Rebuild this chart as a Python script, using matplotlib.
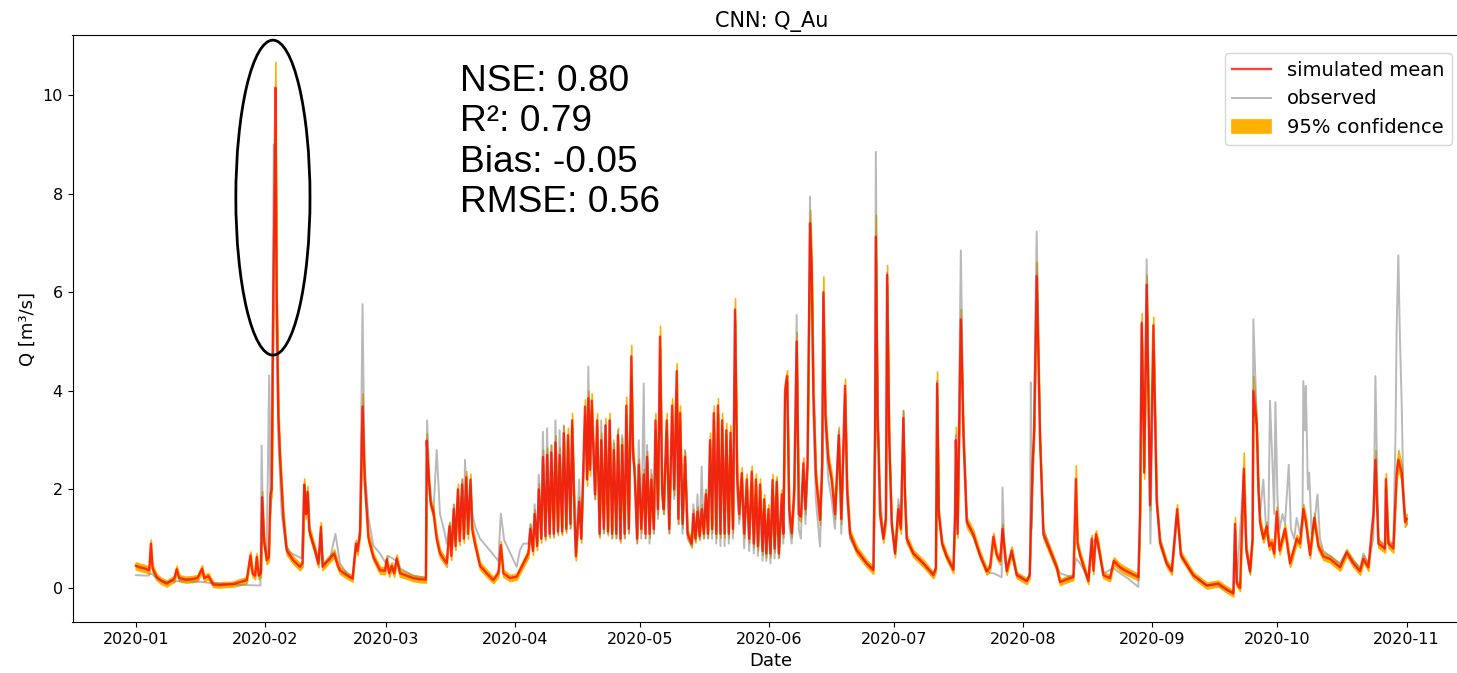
import numpy as np
import matplotlib
matplotlib.use("Agg")
import matplotlib.pyplot as plt
import matplotlib.dates as mdates
from matplotlib.patches import Ellipse

START = np.datetime64("2020-01-01T00:00")

# simulated mean: (days since 2020-01-01, Q [m3/s], half width of 95% band)
sim_points = [
    (0.0, 0.45, 0.07), (1.0, 0.42, 0.07), (2.0, 0.40, 0.07), (3.2, 0.36, 0.07), (3.6, 0.90, 0.08),
    (4.0, 0.40, 0.07), (5.0, 0.22, 0.06), (6.0, 0.15, 0.06), (7.4, 0.09, 0.06), (8.5, 0.15, 0.06),
    (9.2, 0.18, 0.06), (9.8, 0.38, 0.07), (10.4, 0.20, 0.06), (12.0, 0.17, 0.06), (13.5, 0.18, 0.06),
    (14.8, 0.20, 0.06), (15.9, 0.39, 0.07), (16.4, 0.20, 0.06), (17.4, 0.24, 0.06), (18.6, 0.07, 0.05),
    (20.0, 0.06, 0.05), (21.5, 0.07, 0.05), (23.4, 0.08, 0.05), (25.0, 0.12, 0.06), (26.6, 0.16, 0.06),
    (27.5, 0.66, 0.08), (28.0, 0.30, 0.07), (28.6, 0.25, 0.07), (29.0, 0.63, 0.08), (29.5, 0.25, 0.07),
    (30.0, 0.30, 0.07), (30.3, 1.84, 0.12), (30.8, 0.95, 0.10), (31.4, 0.56, 0.08), (31.9, 0.62, 0.08),
    (32.3, 1.90, 0.12), (32.6, 2.00, 0.15), (33.0, 6.00, 0.20), (33.2, 7.30, 0.35), (33.5, 10.15, 0.52),
    (33.8, 5.90, 0.25), (34.2, 3.50, 0.15), (34.6, 2.66, 0.12), (35.4, 1.44, 0.10), (36.2, 0.76, 0.08),
    (37.8, 0.56, 0.07), (39.4, 0.43, 0.07), (40.0, 0.50, 0.07), (40.4, 2.10, 0.12), (40.8, 1.50, 0.10),
    (41.2, 1.95, 0.12), (41.6, 1.17, 0.10), (43.0, 0.76, 0.08), (43.8, 0.49, 0.07), (44.4, 1.24, 0.10),
    (44.8, 0.43, 0.07), (46.0, 0.55, 0.07), (46.6, 0.60, 0.07), (47.6, 0.70, 0.08), (48.5, 0.45, 0.07),
    (49.0, 0.36, 0.07), (50.6, 0.26, 0.06), (52.0, 0.19, 0.06), (52.8, 0.90, 0.08), (53.2, 0.75, 0.08),
    (53.8, 1.15, 0.10), (54.4, 3.68, 0.27), (54.9, 2.20, 0.12), (55.8, 1.03, 0.10), (57.0, 0.63, 0.07),
    (58.6, 0.36, 0.07), (59.8, 0.35, 0.07), (60.2, 0.58, 0.08), (60.8, 0.30, 0.07), (61.4, 0.45, 0.07),
    (62.0, 0.30, 0.07), (62.6, 0.60, 0.08), (63.4, 0.30, 0.07), (65.0, 0.25, 0.06), (66.6, 0.20, 0.06),
    (68.0, 0.18, 0.06), (69.6, 0.17, 0.06), (69.8, 2.99, 0.15), (70.3, 2.20, 0.12), (70.8, 1.70, 0.10),
    (71.4, 1.55, 0.10), (72.2, 1.00, 0.10), (73.0, 0.70, 0.08), (74.6, 0.50, 0.07), (75.3, 1.25, 0.10),
    (75.7, 0.65, 0.08), (76.3, 1.60, 0.10), (76.7, 0.85, 0.08), (77.3, 2.00, 0.12), (77.7, 0.95, 0.08),
    (78.3, 2.10, 0.12), (78.7, 1.00, 0.08), (79.3, 2.25, 0.12), (79.7, 1.10, 0.10), (80.3, 2.20, 0.12),
    (80.7, 1.20, 0.10), (81.4, 0.90, 0.08), (82.6, 0.45, 0.07), (84.2, 0.30, 0.07), (85.8, 0.16, 0.06),
    (87.0, 0.30, 0.07), (87.6, 0.87, 0.08), (88.2, 0.30, 0.07), (89.8, 0.20, 0.06), (91.4, 0.23, 0.06),
    (93.0, 0.50, 0.07), (94.2, 0.70, 0.08),
    (94.7, 1.20, 0.10), (95.3, 0.75, 0.08), (95.7, 1.50, 0.10), (96.3, 0.85, 0.08), (96.7, 2.00, 0.12),
    (97.3, 1.00, 0.08), (97.7, 2.66, 0.15), (98.3, 1.05, 0.08), (98.7, 2.70, 0.15), (99.3, 1.10, 0.08),
    (99.7, 2.75, 0.15), (100.3, 1.10, 0.08), (100.7, 2.95, 0.15), (101.3, 1.15, 0.08), (101.7, 2.70, 0.15),
    (102.3, 1.15, 0.08), (102.7, 3.14, 0.15), (103.3, 1.20, 0.08), (103.7, 3.10, 0.15), (104.3, 1.30, 0.08),
    (104.7, 3.40, 0.15), (105.3, 1.40, 0.10), (105.6, 0.64, 0.08), (106.4, 1.75, 0.10), (106.9, 1.00, 0.08),
    (107.8, 3.68, 0.15), (108.3, 2.20, 0.12), (108.6, 3.85, 0.15), (109.0, 2.40, 0.12), (109.4, 3.80, 0.15),
    (110.2, 1.90, 0.10), (110.7, 3.40, 0.15), (111.3, 1.10, 0.08), (111.7, 3.00, 0.15), (112.3, 1.20, 0.08),
    (112.7, 3.30, 0.15), (113.3, 1.15, 0.08), (113.7, 3.40, 0.15), (114.3, 1.10, 0.08), (114.7, 2.80, 0.15),
    (115.3, 1.10, 0.08), (115.7, 3.10, 0.15), (116.3, 1.00, 0.08), (116.7, 2.90, 0.15), (117.3, 1.10, 0.08),
    (117.7, 3.70, 0.18), (118.3, 1.20, 0.08), (118.9, 4.70, 0.23), (119.3, 2.80, 0.12), (119.7, 2.30, 0.12),
    (120.3, 1.00, 0.08), (120.7, 2.50, 0.12), (121.3, 1.20, 0.08), (121.9, 2.30, 0.12), (122.3, 1.10, 0.08),
    (122.7, 2.66, 0.12), (123.3, 1.10, 0.08), (123.7, 2.20, 0.12), (124.3, 1.20, 0.08), (124.7, 3.40, 0.15),
    (125.3, 1.60, 0.10), (125.8, 5.10, 0.22), (126.3, 2.00, 0.12), (126.7, 1.60, 0.10), (127.4, 3.40, 0.15),
    (128.0, 1.20, 0.08), (128.7, 3.70, 0.15), (129.2, 2.00, 0.12), (129.8, 4.40, 0.16), (130.2, 1.40, 0.10),
    (130.6, 3.55, 0.15), (131.2, 1.30, 0.08), (131.8, 2.66, 0.12), (132.4, 1.11, 0.08), (133.4, 0.90, 0.08),
    (133.8, 1.50, 0.10), (134.3, 1.00, 0.08), (134.8, 1.55, 0.10), (135.3, 1.05, 0.08), (135.8, 1.60, 0.10),
    (136.3, 1.10, 0.08), (136.8, 1.90, 0.10), (137.3, 1.10, 0.08), (137.8, 3.00, 0.15), (138.3, 1.20, 0.08),
    (138.7, 3.55, 0.15), (139.3, 1.10, 0.08), (139.7, 3.70, 0.15), (140.3, 1.10, 0.08), (140.7, 3.40, 0.15),
    (141.3, 1.10, 0.08), (141.7, 3.20, 0.15), (142.3, 1.10, 0.08), (142.7, 3.15, 0.15), (143.3, 1.20, 0.08),
    (143.8, 5.65, 0.23), (144.3, 2.30, 0.12), (144.8, 1.50, 0.10), (145.4, 2.33, 0.12), (146.0, 1.10, 0.08),
    (146.6, 2.20, 0.12), (147.2, 1.00, 0.08), (147.8, 2.36, 0.12), (148.3, 0.90, 0.08), (148.8, 2.20, 0.12),
    (149.3, 0.85, 0.08), (149.8, 2.10, 0.12), (150.4, 0.75, 0.08), (150.8, 1.80, 0.10), (151.3, 0.70, 0.08),
    (151.8, 1.60, 0.10), (152.3, 0.70, 0.08), (152.8, 2.19, 0.12), (153.3, 0.80, 0.08), (153.8, 2.15, 0.12),
    (154.3, 0.70, 0.08), (155.0, 1.90, 0.10), (155.4, 1.10, 0.08), (155.8, 4.00, 0.15), (156.3, 4.30, 0.12),
    (156.8, 1.60, 0.10), (157.4, 1.11, 0.08), (158.0, 2.00, 0.12), (158.6, 5.00, 0.20), (159.1, 1.50, 0.10),
    (159.6, 1.45, 0.10), (160.2, 2.53, 0.12), (160.7, 1.60, 0.10), (161.2, 2.60, 0.12), (161.5, 5.00, 0.20),
    (161.8, 7.40, 0.27), (162.2, 6.50, 0.25), (162.6, 4.00, 0.20), (163.2, 2.30, 0.12), (164.2, 1.38, 0.10),
    (164.7, 2.50, 0.12), (165.0, 6.00, 0.32), (165.5, 3.50, 0.15), (166.2, 2.60, 0.12), (167.0, 2.20, 0.12),
    (167.8, 1.50, 0.10), (168.7, 3.10, 0.17), (169.3, 1.40, 0.10), (170.2, 4.10, 0.15), (170.7, 2.00, 0.12),
    (171.4, 1.10, 0.08), (173.0, 0.77, 0.08), (175.4, 0.50, 0.07), (177.0, 0.36, 0.07), (177.4, 3.00, 0.15),
    (177.6, 7.13, 0.44), (178.0, 3.50, 0.15), (178.6, 1.50, 0.10), (179.4, 1.00, 0.08), (180.0, 1.40, 0.10),
    (180.3, 6.35, 0.20), (180.8, 3.00, 0.15), (181.4, 1.30, 0.10), (182.2, 0.70, 0.08), (183.0, 1.60, 0.10),
    (183.6, 1.20, 0.10), (184.2, 3.45, 0.15), (184.6, 1.80, 0.10), (185.0, 1.00, 0.08), (186.6, 0.70, 0.07),
    (189.0, 0.50, 0.07), (191.4, 0.26, 0.06), (192.0, 0.40, 0.07), (192.3, 4.15, 0.24), (192.7, 1.50, 0.10),
    (193.5, 0.90, 0.08), (194.6, 0.64, 0.07), (196.2, 0.37, 0.07), (196.6, 1.50, 0.10), (196.8, 3.00, 0.27),
    (197.2, 1.10, 0.08), (198.0, 5.45, 0.20), (198.6, 3.09, 0.15), (199.4, 1.34, 0.10), (201.0, 1.09, 0.08),
    (202.6, 0.67, 0.07), (204.2, 0.34, 0.07), (205.0, 0.42, 0.07), (205.8, 1.04, 0.08), (206.6, 0.67, 0.07),
    (207.4, 0.55, 0.07), (208.0, 1.20, 0.10), (209.0, 0.34, 0.07), (210.2, 0.76, 0.08), (211.4, 0.26, 0.06),
    (213.8, 0.14, 0.06), (214.5, 0.25, 0.06), (215.2, 2.50, 0.15), (215.6, 3.20, 0.15), (216.2, 6.33, 0.29),
    (217.0, 3.00, 0.15), (217.8, 1.09, 0.08), (219.4, 0.76, 0.08), (221.0, 0.42, 0.07), (221.8, 0.12, 0.06),
    (223.5, 0.18, 0.06), (225.0, 0.22, 0.06), (225.6, 2.21, 0.28), (226.0, 0.90, 0.08), (226.6, 0.67, 0.07),
    (228.6, 0.14, 0.06), (229.4, 1.00, 0.08), (229.8, 0.35, 0.07), (230.4, 1.09, 0.08), (230.9, 0.92, 0.08),
    (232.2, 0.26, 0.06), (233.8, 0.20, 0.06), (234.7, 0.55, 0.07), (236.2, 0.42, 0.07), (237.8, 0.34, 0.07),
    (240.6, 0.22, 0.06), (241.0, 1.50, 0.10), (241.4, 5.37, 0.21), (242.0, 2.34, 0.12), (242.6, 6.15, 0.20),
    (243.4, 1.68, 0.10), (244.2, 5.33, 0.17), (245.0, 1.75, 0.10), (245.8, 0.92, 0.08), (247.4, 0.50, 0.07),
    (248.6, 0.34, 0.07), (249.9, 1.60, 0.10), (250.8, 0.67, 0.07), (253.8, 0.26, 0.06), (257.0, 0.05, 0.06),
    (259.8, 0.09, 0.06), (261.8, -0.03, 0.06), (263.4, -0.11, 0.06), (263.8, 1.30, 0.14), (264.2, 0.10, 0.06),
    (265.0, 0.00, 0.06), (265.9, 2.42, 0.33), (266.5, 0.80, 0.08), (267.4, 0.34, 0.07), (268.0, 1.00, 0.08),
    (268.2, 4.00, 0.30), (269.0, 3.30, 0.15), (269.4, 2.00, 0.12), (269.8, 1.34, 0.10), (270.6, 1.00, 0.08),
    (271.4, 1.25, 0.10), (272.0, 0.85, 0.08), (272.6, 0.92, 0.08), (273.2, 0.70, 0.08), (273.8, 1.55, 0.10),
    (274.5, 0.76, 0.08), (275.2, 1.00, 0.08), (275.8, 1.20, 0.10), (277.0, 0.50, 0.07), (278.0, 0.80, 0.08),
    (278.6, 1.00, 0.08), (279.4, 0.90, 0.08), (280.2, 1.60, 0.10), (280.8, 1.35, 0.10), (281.8, 0.67, 0.07),
    (282.8, 1.42, 0.10), (283.8, 0.85, 0.08), (285.0, 0.64, 0.07), (286.6, 0.59, 0.07), (289.0, 0.42, 0.07),
    (290.6, 0.72, 0.07), (292.2, 0.50, 0.07), (293.8, 0.34, 0.07), (294.6, 0.59, 0.07), (295.8, 0.42, 0.07),
    (297.0, 1.50, 0.10), (297.5, 2.60, 0.20), (298.2, 0.90, 0.08), (299.8, 0.80, 0.08), (300.0, 2.21, 0.12),
    (300.6, 0.90, 0.08), (301.8, 0.80, 0.08), (302.6, 2.34, 0.15), (303.0, 2.60, 0.20), (303.8, 2.34, 0.15),
    (304.6, 1.34, 0.10), (305.0, 1.40, 0.10),
]

# observed discharge: (days since 2020-01-01, Q [m3/s])
obs_points = [
    (0.0, 0.26), (3.0, 0.25), (3.6, 0.30), (5.0, 0.20), (7.4, 0.12), (10.0, 0.14), (15.0, 0.13),
    (18.0, 0.10), (22.0, 0.08), (26.0, 0.06), (29.9, 0.05), (30.2, 2.89), (30.6, 0.90), (31.4, 0.70),
    (32.0, 4.31), (32.3, 1.50), (32.8, 5.00), (33.1, 9.00), (33.5, 8.00), (33.8, 5.00), (34.2, 3.00),
    (35.0, 1.50), (36.0, 0.85), (37.0, 0.72), (39.8, 0.60), (40.4, 2.08), (41.0, 1.50), (41.4, 1.90),
    (41.8, 1.10), (43.0, 0.80), (44.0, 0.55), (44.4, 1.10), (45.0, 0.50), (46.5, 0.55), (47.9, 1.10),
    (49.0, 0.50), (50.6, 0.30), (52.0, 0.20), (52.8, 0.80), (53.8, 1.00), (54.4, 5.76), (54.9, 2.50),
    (55.8, 1.44), (57.0, 0.86), (58.6, 0.70), (60.0, 0.50), (60.6, 0.65), (62.6, 0.55), (63.4, 0.40),
    (66.6, 0.25), (69.6, 0.20), (69.9, 3.40), (70.6, 1.80), (71.4, 1.50), (72.2, 2.80), (73.0, 1.50),
    (74.0, 1.17), (74.6, 0.90), (75.3, 1.30), (75.7, 0.80), (76.3, 1.70), (76.7, 1.00), (77.3, 2.00),
    (77.7, 1.10), (78.3, 2.20), (78.7, 1.20), (79.0, 2.60), (79.7, 1.30), (80.3, 2.10), (80.8, 1.50),
    (81.4, 1.25), (82.6, 1.00), (85.0, 0.76), (87.0, 0.55), (87.6, 1.51), (88.4, 0.97), (91.4, 0.43),
    (92.2, 0.77), (93.0, 0.90), (94.2, 0.90),
    (94.7, 1.30), (95.3, 0.80), (95.7, 1.70), (96.3, 0.90), (96.7, 2.30), (97.3, 1.00), (97.7, 3.17),
    (98.3, 1.00), (98.7, 3.24), (99.3, 1.05), (99.7, 2.90), (100.3, 1.05), (100.7, 3.40), (101.3, 1.10),
    (101.7, 3.20), (102.3, 1.10), (102.7, 3.30), (103.3, 1.15), (103.7, 3.00), (104.3, 1.20), (104.7, 3.30),
    (105.3, 1.30), (105.6, 0.70), (106.4, 2.20), (106.9, 1.00), (107.8, 3.50), (108.3, 2.20), (108.6, 4.49),
    (109.0, 2.50), (109.4, 3.60), (110.2, 1.80), (110.7, 3.30), (111.3, 1.05), (111.7, 3.40), (112.3, 1.10),
    (112.7, 3.30), (113.3, 1.10), (113.7, 3.40), (114.3, 1.00), (114.7, 3.00), (115.3, 1.00), (115.7, 3.20),
    (116.3, 0.95), (116.7, 3.10), (117.3, 1.00), (117.7, 3.50), (118.3, 1.10), (118.9, 4.30), (119.3, 2.60),
    (119.7, 2.50), (120.3, 0.90), (120.7, 3.00), (121.3, 1.00), (121.9, 4.15), (122.3, 1.00), (122.7, 2.90),
    (123.3, 0.90), (123.7, 2.40), (124.3, 1.10), (124.7, 3.20), (125.3, 1.40), (125.8, 4.70), (126.3, 1.80),
    (126.7, 1.50), (127.4, 3.20), (128.0, 1.10), (128.7, 3.50), (129.2, 1.80), (129.8, 4.00), (130.2, 1.30),
    (130.6, 3.30), (131.2, 1.10), (131.8, 2.80), (132.4, 1.00), (133.4, 0.85), (133.8, 1.70), (134.3, 0.95),
    (134.8, 1.90), (135.3, 1.00), (135.8, 2.46), (136.3, 1.00), (136.8, 2.00), (137.3, 1.00), (137.8, 2.90),
    (138.3, 1.00), (138.7, 3.40), (139.3, 0.90), (139.7, 3.50), (140.3, 0.85), (140.7, 3.30), (141.3, 0.85),
    (141.7, 3.10), (142.3, 0.90), (142.7, 3.00), (143.3, 1.00), (143.8, 5.60), (144.3, 2.00), (144.8, 1.30),
    (145.4, 2.20), (146.0, 0.80), (146.6, 2.00), (147.2, 0.75), (147.8, 2.10), (148.3, 0.70), (148.8, 1.90),
    (149.3, 0.65), (149.8, 1.80), (150.4, 0.55), (150.8, 1.60), (151.3, 0.55), (151.8, 1.50), (152.3, 0.50),
    (152.8, 2.00), (153.3, 0.60), (153.8, 2.20), (154.3, 0.60), (155.0, 1.70), (155.4, 0.90), (155.8, 3.80),
    (156.3, 4.20), (156.8, 1.30), (157.4, 0.90), (158.0, 1.80), (158.6, 5.54), (159.1, 1.20), (159.6, 1.00),
    (160.2, 2.40), (160.7, 1.30), (161.2, 2.40), (161.5, 5.00), (161.8, 7.94), (162.2, 6.00), (162.6, 3.50),
    (163.2, 1.80), (164.2, 0.84), (164.7, 2.30), (165.0, 5.90), (165.5, 3.20), (166.2, 2.20), (167.0, 1.80),
    (167.8, 1.20), (168.7, 3.20), (169.3, 1.10), (170.2, 3.90), (170.7, 1.80), (171.4, 1.00), (173.0, 0.75),
    (175.4, 0.50), (177.0, 0.40), (177.4, 3.50), (177.6, 8.85), (178.0, 4.00), (178.6, 2.00), (179.4, 1.00),
    (180.0, 1.50), (180.3, 6.40), (180.8, 3.20), (181.4, 1.30), (182.2, 0.70), (183.0, 1.80), (183.6, 1.30),
    (184.2, 3.60), (184.6, 2.00), (185.0, 1.00), (186.6, 0.70), (189.0, 0.50), (191.4, 0.30), (192.0, 0.40),
    (192.3, 4.20), (192.7, 1.60), (193.5, 0.90), (194.6, 0.65), (196.2, 0.40), (196.6, 1.40), (196.8, 3.10),
    (197.2, 1.20), (198.0, 6.85), (198.6, 3.50), (199.4, 1.40), (201.0, 1.05), (202.6, 0.65), (204.2, 0.35),
    (205.0, 0.30), (205.8, 0.30), (207.8, 0.22), (208.0, 2.04), (208.5, 0.60), (209.0, 0.40), (210.2, 0.70),
    (211.4, 0.30), (213.8, 0.15), (214.6, 0.30), (214.8, 4.17), (215.0, 1.20), (215.4, 2.60), (216.2, 7.23),
    (217.0, 3.20), (217.8, 1.20), (219.4, 0.80), (221.0, 0.45), (221.8, 0.30), (223.5, 0.25), (225.0, 0.22),
    (225.6, 0.60), (226.6, 0.50), (228.6, 0.20), (229.4, 0.90), (230.4, 1.00), (232.2, 0.30), (234.7, 0.40),
    (236.2, 0.30), (238.0, 0.20), (240.6, 0.02), (241.0, 1.50), (241.4, 5.40), (242.0, 3.00), (242.6, 6.67),
    (243.5, 0.90), (244.2, 4.80), (245.0, 1.80), (245.8, 1.00), (247.4, 0.50), (248.6, 0.35), (249.9, 1.50),
    (250.8, 0.65), (253.8, 0.25), (257.0, 0.05), (259.8, 0.05), (261.8, -0.05), (263.4, -0.10), (263.8, 1.20),
    (264.2, 0.10), (265.9, 2.30), (266.5, 0.70), (267.4, 0.30), (268.0, 1.00), (268.2, 5.45), (269.0, 3.50),
    (269.4, 2.20), (269.8, 1.50), (270.6, 2.20), (271.2, 1.30), (271.8, 1.20), (272.2, 3.80), (272.8, 2.50),
    (273.2, 1.50), (273.5, 3.77), (274.0, 1.80), (274.5, 1.20), (275.2, 1.50), (275.8, 1.30), (276.7, 2.50),
    (277.2, 1.20), (278.0, 1.00), (278.6, 1.42), (279.4, 1.10), (280.0, 1.40), (280.2, 4.20), (280.6, 3.20),
    (280.8, 4.10), (281.3, 2.00), (281.6, 2.34), (282.2, 1.10), (282.8, 1.30), (283.6, 1.90), (284.2, 1.00),
    (285.0, 0.75), (286.6, 0.65), (289.0, 0.50), (290.6, 0.75), (292.2, 0.55), (293.8, 0.40), (294.6, 0.70),
    (295.8, 0.50), (297.0, 1.00), (297.5, 4.30), (298.2, 1.00), (299.8, 0.80), (300.0, 2.00), (300.6, 0.90),
    (301.8, 0.90), (302.3, 3.00), (302.6, 5.30), (303.0, 6.75), (303.4, 5.00), (303.8, 3.77), (304.2, 2.00),
    (304.6, 1.50), (305.0, 1.30),
]

metrics_text = "NSE: 0.80\nR²: 0.79\nBias: -0.05\nRMSE: 0.56"


def to_time(days):
    minutes = np.round(np.asarray(days) * 24 * 60).astype("timedelta64[m]")
    return START + minutes


sim_day, sim_q, sim_ci = (np.array(v) for v in zip(*sim_points))
obs_day, obs_q = (np.array(v) for v in zip(*obs_points))
sim_t = to_time(sim_day)
obs_t = to_time(obs_day)

fig = plt.figure(figsize=(14.57, 6.73), dpi=100)
W, H = 1457, 673
ax = fig.add_axes([72.5 / W, (H - 622) / H, (1470 - 72.5) / W, 587 / H])

band_color = "#ffb000"
ax.fill_between(sim_t, sim_q - sim_ci, sim_q + sim_ci, facecolor=band_color,
                edgecolor=band_color, linewidth=1.2, label="95% confidence", zorder=1)
ax.plot(obs_t, obs_q, color="grey", alpha=0.55, linewidth=1.4, label="observed", zorder=2)
ax.plot(sim_t, sim_q, color="red", alpha=0.75, linewidth=1.7, label="simulated mean", zorder=3)

t0 = mdates.date2num(START)
ax.set_xlim(t0 - 15.2, t0 + 320.2)
ax.set_ylim(-0.69, 11.22)
ax.xaxis.set_major_locator(mdates.MonthLocator())
ax.xaxis.set_major_formatter(mdates.DateFormatter("%Y-%m"))
ax.tick_params(labelsize=11.5)

ax.set_title("CNN: Q_Au", fontsize=15)
ax.set_xlabel("Date", fontsize=13)
ax.set_ylabel("Q [m³/s]", fontsize=13)

# highlight of the early-February flood peak
ax.add_patch(Ellipse((t0 + 32.9, 7.92), width=17.8, height=6.39, fill=False,
                     edgecolor="black", linewidth=2, zorder=5))

fig.text(460 / W, (H - 64) / H, metrics_text, fontsize=26.7, family="Liberation Sans",
         va="top", ha="left", linespacing=1.2)

handles, labels = ax.get_legend_handles_labels()
order = [labels.index(k) for k in ["simulated mean", "observed", "95% confidence"]]
fig.legend([handles[i] for i in order], [labels[i] for i in order],
           loc="upper right", bbox_to_anchor=(1452 / W, (H - 53) / H),
           fontsize=14, borderaxespad=0)

fig.savefig("out.png", dpi=100)
